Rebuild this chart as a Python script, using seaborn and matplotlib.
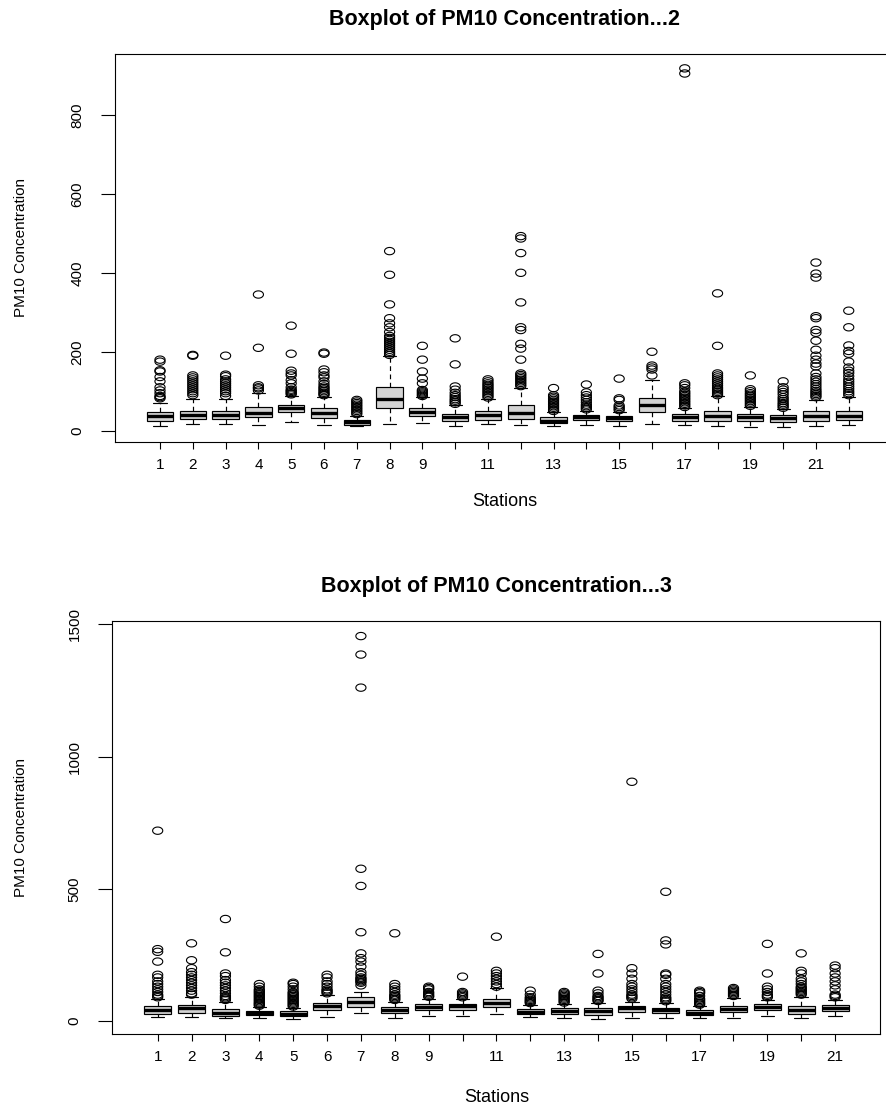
"""
Boxplots of PM10 concentration per station, drawn in the style of R's base boxplot.
"""
import numpy as np
import pandas as pd
import matplotlib
matplotlib.use("Agg")
import matplotlib.pyplot as plt
from matplotlib.path import Path
import seaborn as sns

sns.set_style("ticks")
plt.rcParams['font.family'] = ['Liberation Sans', 'DejaVu Sans']
plt.rcParams.update({'text.color': 'black', 'axes.labelcolor': 'black',
                     'xtick.color': 'black', 'ytick.color': 'black',
                     'axes.edgecolor': 'black'})

# ---- Data: Concentration...2 (22 stations) ----
lo_2 = [12, 17, 17, 14.5, 23, 15, 11, 17, 20, 12, 17, 14.5, 11, 15, 11, 17, 15, 13, 10, 8.5, 13, 15]
q1_2 = [25.5, 30, 30, 34, 47, 32, 15, 57, 38, 25.5, 28, 30, 19, 27, 25.5, 48.5, 24, 25.5, 24, 23, 25.5, 27]
med_2 = [36, 40, 40, 45, 57, 45, 22, 81, 48.5, 34, 40, 44, 25.5, 34, 32, 65.5, 34, 38, 34, 31.5, 36.5, 38]
q3_2 = [47, 51, 51, 60, 66, 57, 28, 110, 58, 43, 51, 64, 34, 40, 38, 83, 43, 51, 43, 40, 51, 51]
hi_2 = [71, 81, 81, 96, 87, 85, 38, 189, 85, 64, 81, 109, 47, 51, 48, 128, 57, 87, 60, 55, 79, 85]
out_2 = [
    [82, 85, 88, 95, 102, 110, 125, 136, 150, 153, 175, 180],
    [90, 95, 100, 105, 110, 115, 120, 125, 130, 135, 140, 190, 192],
    [88, 95, 100, 105, 110, 115, 120, 125, 130, 138, 142, 190],
    [102, 107, 110, 115, 210, 345],
    [92, 95, 98, 101, 104, 110, 120, 128, 140, 145, 152, 195, 266],
    [90, 93, 96, 100, 104, 108, 112, 118, 125, 135, 140, 148, 155, 195, 198],
    [42, 46, 50, 54, 58, 62, 66, 70, 74, 78],
    [192, 196, 200, 205, 210, 215, 220, 225, 230, 235, 240, 250, 262, 272, 285, 320, 395, 455],
    [88, 91, 94, 97, 100, 103, 120, 132, 150, 180, 215],
    [68, 72, 76, 80, 85, 90, 96, 104, 112, 168, 234],
    [84, 88, 92, 96, 100, 104, 108, 112, 116, 120, 125, 130],
    [113, 117, 121, 125, 129, 133, 137, 141, 145, 180, 208, 220, 255, 262, 325, 400, 450, 487, 493],
    [50, 54, 58, 62, 66, 70, 74, 78, 82, 86, 90, 108],
    [54, 58, 62, 66, 72, 78, 84, 90, 97, 117],
    [52, 56, 60, 64, 78, 82, 132],
    [140, 155, 160, 165, 200],
    [60, 64, 68, 72, 76, 80, 84, 88, 92, 96, 100, 108, 115, 120, 905, 918],
    [90, 94, 98, 102, 106, 110, 115, 120, 125, 130, 135, 140, 145, 215, 348],
    [63, 67, 71, 75, 79, 83, 87, 91, 95, 100, 105, 140],
    [58, 62, 66, 70, 75, 80, 85, 92, 98, 104, 110, 125],
    [85, 89, 93, 97, 101, 106, 112, 118, 124, 130, 136, 145, 163, 170, 180, 190, 205, 228, 248,
     255, 285, 290, 388, 398, 426],
    [90, 95, 100, 106, 112, 118, 124, 130, 138, 146, 152, 160, 175, 195, 202, 216, 262, 304],
]
xlabels_2 = ['1', '2', '3', '4', '5', '6', '7', '8', '9', '', '11', '', '13', '', '15', '',
             '17', '', '19', '', '21', '']
yticks_2 = [0, 200, 400, 600, 800]

# ---- Data: Concentration...3 (21 stations) ----
lo_3 = [14, 16, 10, 12.6, 9, 16, 29, 10, 20, 20, 25, 14, 10, 9, 10, 12, 10, 12, 20, 10, 19]
q1_3 = [26.5, 29, 20, 22.7, 19, 41.7, 54, 31.6, 41.7, 42, 52, 26.5, 26.5, 24, 33, 29, 22.7, 33, 42, 25, 39]
med_3 = [41.7, 48, 31.6, 30, 27.8, 56.8, 73, 41.7, 54, 56, 69.4, 35, 38, 38, 48, 41.7, 31.6, 44, 52, 41.7, 50.5]
q3_3 = [57, 60.6, 44, 39, 39, 69.4, 89.8, 52, 64.4, 64, 83, 44, 48, 48, 57, 48, 41.7, 57, 64, 57, 60.6]
hi_3 = [82, 92, 73, 54, 51, 98.5, 111, 73, 82, 82, 124, 60.6, 63, 67, 73, 67, 56.8, 86, 79.5, 90, 79.5]
out_3 = [
    [90, 95, 100, 110, 120, 130, 140, 150, 165, 175, 225, 262, 272, 720],
    [100, 105, 115, 125, 135, 145, 155, 165, 175, 185, 200, 230, 294],
    [80, 85, 90, 95, 105, 115, 125, 135, 145, 155, 170, 180, 260, 386],
    [58, 62, 66, 70, 75, 80, 85, 90, 95, 100, 105, 110, 115, 120, 130, 140],
    [55, 60, 65, 70, 75, 80, 85, 90, 95, 100, 105, 110, 120, 130, 140, 145],
    [105, 110, 115, 120, 130, 140, 150, 165, 175],
    [135, 145, 150, 155, 160, 165, 175, 185, 206, 225, 238, 256, 336, 511, 576, 1261, 1386, 1456],
    [80, 85, 90, 95, 100, 110, 120, 130, 140, 332],
    [92, 95, 100, 105, 110, 120, 125, 130],
    [90, 95, 100, 105, 110, 168],
    [130, 140, 150, 160, 170, 180, 190, 319],
    [68, 72, 76, 80, 85, 90, 100, 115],
    [70, 75, 80, 85, 90, 95, 100, 105, 110],
    [76, 80, 85, 90, 95, 105, 115, 180, 254],
    [85, 90, 95, 100, 110, 120, 130, 140, 160, 180, 200, 905],
    [75, 80, 85, 90, 100, 110, 120, 130, 140, 160, 175, 180, 290, 305, 489],
    [62, 66, 70, 75, 80, 85, 95, 105, 110, 115],
    [95, 100, 105, 110, 115, 120, 125],
    [90, 95, 100, 110, 120, 130, 180, 292],
    [100, 105, 110, 115, 120, 125, 130, 140, 150, 160, 180, 190, 256],
    [90, 95, 100, 120, 135, 150, 165, 180, 200, 210],
]
xlabels_3 = ['1', '2', '3', '4', '5', '6', '7', '8', '9', '', '11', '', '13', '', '15', '',
             '17', '', '19', '', '21']
yticks_3 = [0, 500, 1000, 1500]

# R-style open circle, a bit squashed like in the original image
_t = np.linspace(0, 2 * np.pi, 41)
OVAL = Path(np.column_stack([np.cos(_t), 0.72 * np.sin(_t)]), closed=True)


def draw_panel(ax, lo, q1, med, q3, hi, outliers, xlabels, yticks, title, xlim, ylim,
               ylab_x, xlab_y, title_pad):
    names = [str(i + 1) for i in range(len(med))]

    # five-number summary per station -> quartiles come out exactly as given
    box_df = pd.DataFrame({
        'station': np.repeat(names, 5),
        'pm10': np.column_stack([lo, q1, med, q3, hi]).ravel(),
    })
    sns.boxplot(data=box_df, x='station', y='pm10', order=names, whis=(0, 100),
                showfliers=False, width=0.8, color='#d3d3d3', saturation=1,
                linecolor='black', linewidth=0.85, ax=ax,
                medianprops={'linewidth': 2.4},
                whiskerprops={'linestyle': (0, (4, 3))})

    out_df = pd.DataFrame({
        'station': [names[i] for i, o in enumerate(outliers) for _ in o],
        'pm10': [v for o in outliers for v in o],
    })
    sns.stripplot(data=out_df, x='station', y='pm10', order=names, jitter=False,
                  marker=OVAL, size=7.3, linewidth=0.8, edgecolor='black',
                  color='black', ax=ax)
    for coll in ax.collections:
        coll.set_facecolor('none')

    ax.set_xlim(*xlim)
    ax.set_ylim(*ylim)
    ax.set_xticks(range(len(names)))
    ax.set_xticklabels(xlabels)
    ax.set_yticks(yticks)
    ax.set_yticklabels([str(t) for t in yticks], rotation=90, va='center')
    ax.tick_params(axis='x', length=5, width=0.8, pad=7, labelsize=11)
    ax.tick_params(axis='y', length=10, width=0.8, pad=12, labelsize=11)
    for sp in ax.spines.values():
        sp.set_visible(True)
        sp.set_color('black')
        sp.set_linewidth(0.8)

    ax.set_title(title, fontsize=15.5, fontweight='bold', pad=title_pad)
    ax.set_xlabel('Stations', fontsize=13)
    ax.set_ylabel('PM10 Concentration', fontsize=11)
    ax.xaxis.set_label_coords(0.5, xlab_y)
    ax.yaxis.set_label_coords(ylab_x, 0.5)


fig = plt.figure(figsize=(8.87, 11.04), dpi=100)

# top panel spills past the right edge, as in the original
ax_top = fig.add_axes([115 / 887, (1104 - 441.7) / 1104, 779 / 887, 387.7 / 1104])
ax_bot = fig.add_axes([112.3 / 887, (1104 - 1033.5) / 1104, 768.2 / 887, 412.5 / 1104])

draw_panel(ax_top, lo_2, q1_2, med_2, q3_2, hi_2, out_2, xlabels_2, yticks_2,
           'Boxplot of PM10 Concentration...2', (-1.372, 22.38), (-27.9, 954.4),
           ylab_x=(28 - 115) / 779, xlab_y=-51 / 387.7, title_pad=21)
draw_panel(ax_bot, lo_3, q1_3, med_3, q3_3, hi_3, out_3, xlabels_3, yticks_3,
           'Boxplot of PM10 Concentration...3', (-1.34, 21.34), (-47, 1513),
           ylab_x=(28 - 112.3) / 768.2, xlab_y=-55 / 412.5, title_pad=21)

fig.savefig('out.png', dpi=100)
